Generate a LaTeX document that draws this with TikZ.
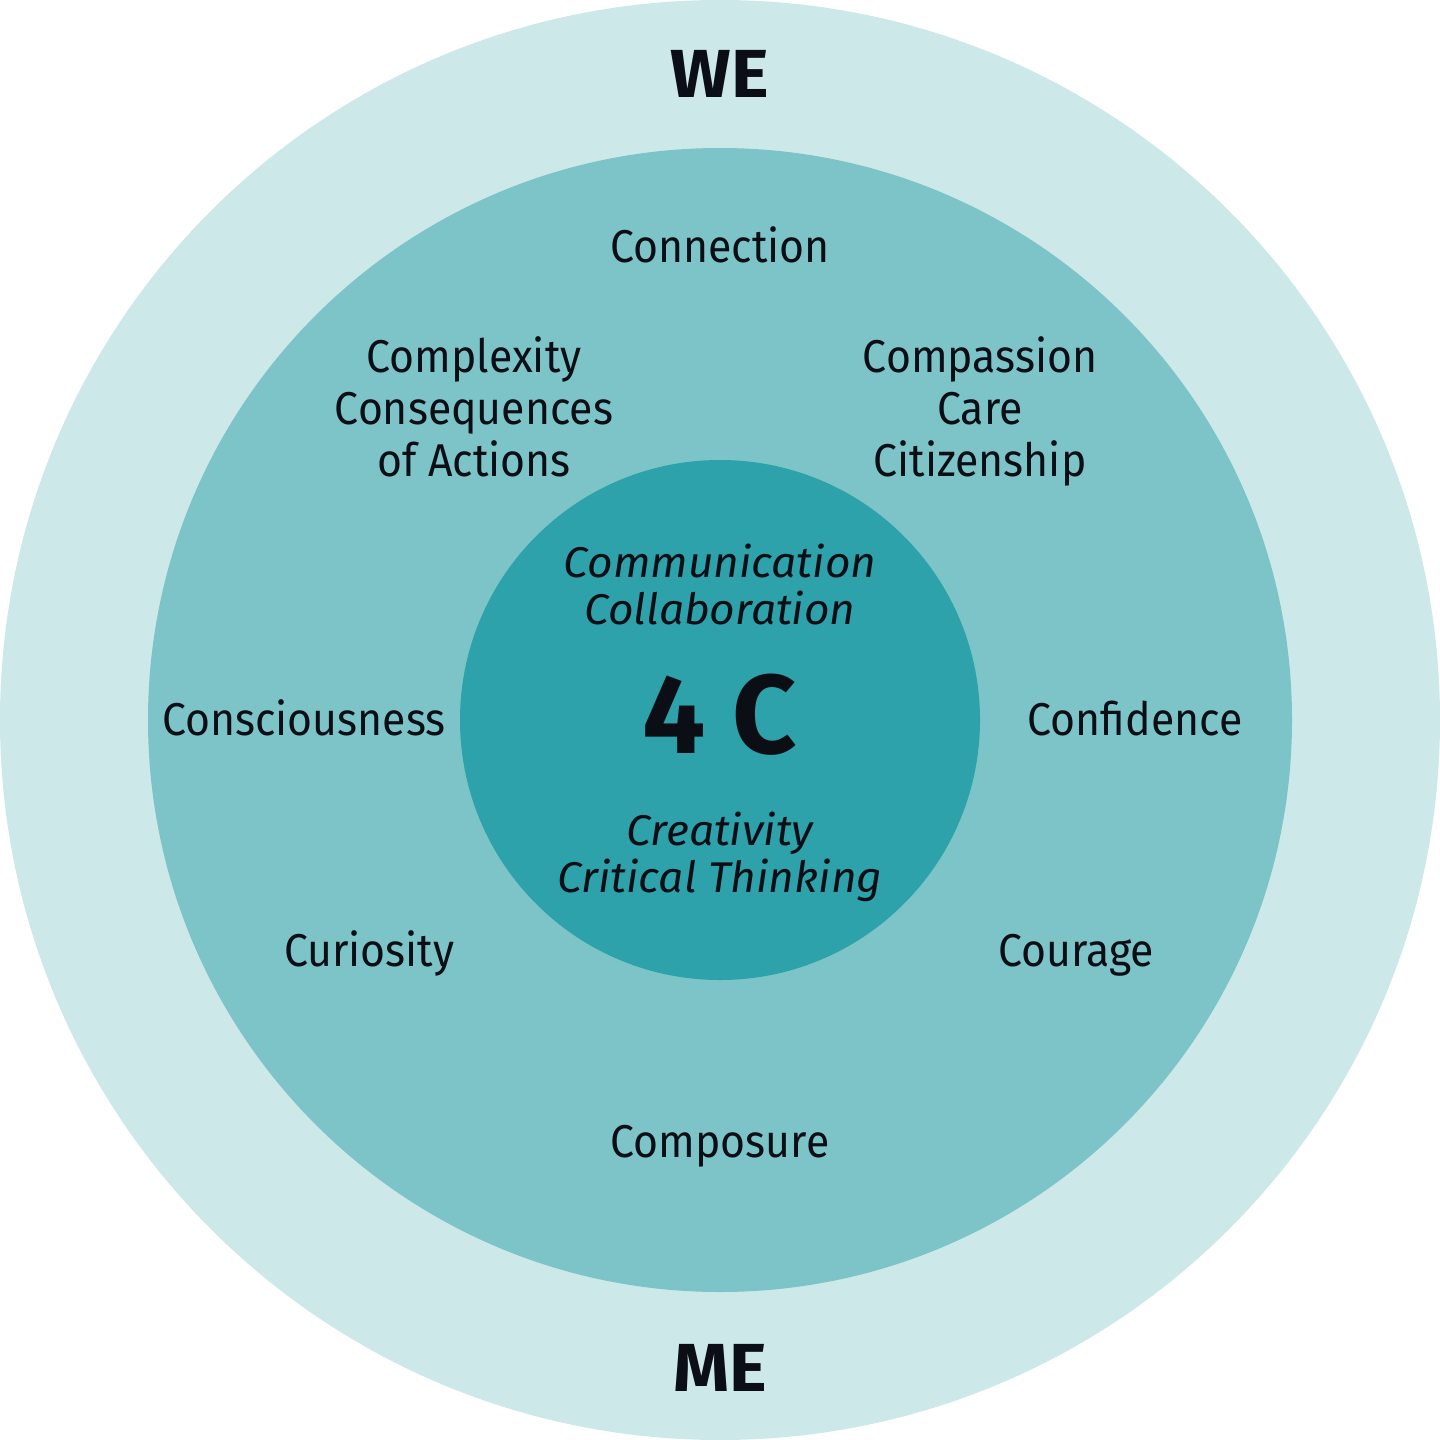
\documentclass[tikz,border=0pt]{standalone}
\usepackage{fontspec}
\setmainfont{Fira Sans}
\newfontfamily\upf[FakeStretch=0.93]{Fira Sans}
\newfontfamily\itf[FakeStretch=1.03]{Fira Sans}
\newfontfamily\bgf[FakeStretch=1.05]{Fira Sans}
\definecolor{outerc}{RGB}{205,232,233}
\definecolor{midc}{RGB}{124,196,199}
\definecolor{innerc}{RGB}{46,162,170}
\definecolor{txt}{RGB}{12,14,22}
\begin{document}
\begin{tikzpicture}[x=1pt,y=-1pt,
  lbl/.style={anchor=base,text=txt,inner sep=0pt,align=center,font=\upf\fontsize{46}{52}\selectfont},
  itl/.style={anchor=base,text=txt,inner sep=0pt,align=center,font=\itf\fontsize{43}{47}\selectfont\itshape},
  big/.style={anchor=base,text=txt,inner sep=0pt,font=\bgf\fontsize{68}{70}\selectfont\bfseries}]
\useasboundingbox (0,0) rectangle (1440,1440);
\fill[outerc] (720,720) circle[radius=720];
\fill[midc] (720,720) circle[radius=572];
\fill[innerc] (720,720) circle[radius=260];
\node[big] (we) at (720,97) {WE};
\node[big] (me) at (720,1391) {ME};
\node[lbl] (connection) at (720,262) {Connection};
\node[lbl] (complexity) at (474,476) {Complexity\\Consequences\\of Actions};
\node[lbl] (compassion) at (980,476) {Compassion\\Care\\Citizenship};
\node[lbl] (consciousness) at (304,735) {Consciousness};
\node[lbl] (confidence) at (1135,735) {Confidence};
\node[lbl] (curiosity) at (369,966) {Curiosity};
\node[lbl] (courage) at (1076,966) {Courage};
\node[lbl] (composure) at (720,1157) {Composure};
\node[itl] (communication) at (720,624) {Communication\\Collaboration};
\node[anchor=base,text=txt,inner sep=0pt,font=\fontsize{112}{112}\selectfont\bfseries] (fourc) at (720,753) {4 C};
\node[itl] (creativity) at (720,892) {Creativity\\Critical Thinking};
\end{tikzpicture}
\end{document}
